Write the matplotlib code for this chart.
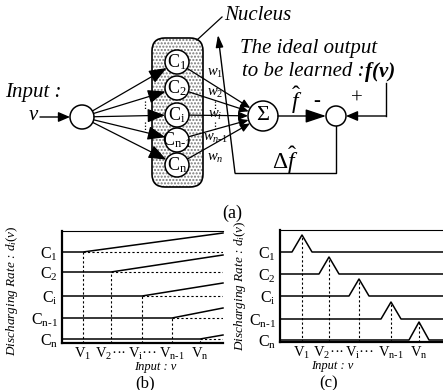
import numpy as np
import matplotlib.pyplot as plt
from matplotlib.patches import Circle, FancyBboxPatch

plt.rcParams['font.family'] = ['Liberation Serif', 'DejaVu Serif']
plt.rcParams['mathtext.fontset'] = 'custom'
plt.rcParams['mathtext.rm'] = 'Liberation Serif'
plt.rcParams['mathtext.it'] = 'Liberation Serif:italic'
plt.rcParams['mathtext.bf'] = 'Liberation Serif:bold'

# labels of the diagram
cell_labels = [r'C$_\mathrm{1}$', r'C$_\mathrm{2}$', r'C$_\mathrm{i}$',
               r'C$_\mathrm{n\text{-}1}$', r'C$_\mathrm{n}$']
weight_labels = [r'$w_1$', r'$w_2$', r'$w_i$', r'$w_{n\text{-}1}$', r'$w_n$']
v_labels = [r'V$_\mathrm{1}$', r'V$_\mathrm{2}$···', r'V$_\mathrm{i}$···',
            r'V$_\mathrm{n\text{-}1}$', r'V$_\mathrm{n}$']

# panel (b): rate stays flat, then grows after the threshold input
b_levels = [91, 71, 47, 25, 4]
b_thresholds = [21, 49, 80, 110, 138]
b_end_values = [110, 88, 60, 35, 8]

# panel (c): rate peaks around each preferred input
c_levels = [90, 68, 46, 23, 2]
c_peaks = [22, 49, 79, 111, 139]
c_heights = [17, 17, 17, 17, 18]
c_halfwidth = 10

W, H = 443, 390
fig = plt.figure(figsize=(W / 100, H / 100), dpi=100)
ax = fig.add_axes([0, 0, 1, 1])
ax.set_xlim(0, W)
ax.set_ylim(H, 0)
ax.axis('off')

# layout of the top diagram (pixels)
cell_x, cell_ys, cell_r = 177, [62, 88, 115, 140, 165], 12
in_x, in_y, in_r = 82, 117, 12
sum_x, sum_y, sum_r = 263, 116, 15
err_x, err_y, err_r = 336, 116, 10


def arrow(p0, p1, ms=10, hl=0.6, hw=0.3, lw=1.0, z=4):
    ax.annotate('', xy=p1, xytext=p0,
                arrowprops=dict(arrowstyle=f'-|>,head_length={hl},head_width={hw}',
                                color='k', lw=lw, mutation_scale=ms,
                                shrinkA=0, shrinkB=0), zorder=z)


# nucleus box with stipple
ax.add_patch(FancyBboxPatch((152, 38), 51, 149, boxstyle='round,pad=0,rounding_size=13',
                            fc='white', ec='#777777', lw=0, hatch='.....', zorder=1))
ax.add_patch(FancyBboxPatch((152, 38), 51, 149, boxstyle='round,pad=0,rounding_size=13',
                            fc='none', ec='k', lw=1.2, zorder=2))
ax.plot([197, 222], [40, 17], color='k', lw=0.9)
ax.text(224, 15, 'Nucleus', fontsize=15, style='italic', va='center', ha='left')

# input node
ax.text(5, 93, 'Input :', fontsize=15, style='italic', va='center', ha='left')
ax.text(33, 116, 'v', fontsize=15, style='italic', va='center', ha='center')
arrow((40, in_y), (in_x - in_r, in_y), ms=10, hl=0.7, hw=0.3)
ax.add_patch(Circle((in_x, in_y), in_r, fc='white', ec='k', lw=1.1, zorder=3))

for cy, lab in zip(cell_ys, cell_labels):
    d = np.array([cell_x - in_x, cy - in_y], float)
    u = d / np.hypot(*d)
    arrow((in_x + u[0] * in_r, in_y + u[1] * in_r),
          (cell_x - u[0] * cell_r, cy - u[1] * cell_r), ms=12, hl=0.9, hw=0.35, lw=0.9)
    ax.add_patch(Circle((cell_x, cy), cell_r, fc='white', ec='k', lw=1.1, zorder=3))
    ax.text(cell_x, cy, lab, fontsize=13, ha='center', va='center', zorder=5)
    d = np.array([sum_x - cell_x, sum_y - cy], float)
    u = d / np.hypot(*d)
    arrow((cell_x + u[0] * cell_r, cy + u[1] * cell_r),
          (sum_x - u[0] * sum_r, sum_y - u[1] * sum_r), ms=8, hl=0.7, hw=0.3, lw=0.9)

for wy, wlab in zip([73, 93, 115, 138, 158], weight_labels):
    ax.text(215, wy, wlab, fontsize=10.5, ha='center', va='center', zorder=5)

# dotted "..." markers
for x in (145, 215):
    ax.plot([x, x], [101, 110], ls=(0, (1, 1.5)), color='k', lw=0.9)
    ax.plot([x, x], [122, 131], ls=(0, (1, 1.5)), color='k', lw=0.9)

# summation and error nodes
ax.add_patch(Circle((sum_x, sum_y), sum_r, fc='white', ec='k', lw=1.1, zorder=3))
ax.text(sum_x, sum_y, 'Σ', fontsize=16, ha='center', va='center', zorder=5)
arrow((sum_x + sum_r, sum_y), (err_x - err_r, err_y), ms=14, hl=0.9, hw=0.3)
ax.add_patch(Circle((err_x, err_y), err_r, fc='white', ec='k', lw=1.1, zorder=3))
ax.text(297, 100, r'$\hat{f}$', fontsize=17, ha='center', va='center')
ax.text(317, 101, '-', fontsize=15, weight='bold', ha='center', va='center')
ax.text(357, 99, '+', fontsize=15, ha='center', va='center')

ax.text(309, 48, 'The ideal output', fontsize=15, style='italic', ha='center', va='center')
t1 = ax.text(242, 72, 'to be learned :', fontsize=15, style='italic', ha='left', va='center')
ax.annotate('f(v)', xy=(1, 0), xycoords=t1, fontsize=15, style='italic', weight='bold',
            ha='left', va='bottom')
ax.plot([386, 386], [83, err_y], color='k', lw=1.0)
arrow((386, err_y), (err_x + err_r, err_y), ms=10, hl=0.7, hw=0.3)

# feedback path
ax.plot([err_x, err_x, 235], [err_y + err_r, 173, 173], color='k', lw=1.0)
arrow((235, 173), (218, 35), ms=9, hl=0.8, hw=0.25, lw=1.0, z=2)
ax.text(285, 160, r'$\Delta\hat{f}$', fontsize=17, ha='center', va='center')
ax.text(232, 213, '(a)', fontsize=13, ha='center', va='center')


def panel(left, width, top, bottom):
    p = fig.add_axes([left / W, (H - bottom) / H, width / W, (bottom - top) / H])
    p.set_xlim(0, width)
    p.set_ylim(0, bottom - top)
    p.spines['right'].set_visible(False)
    p.spines['left'].set_linewidth(1.6)
    p.spines['bottom'].set_linewidth(1.6)
    p.spines['top'].set_linewidth(0.8)
    p.tick_params(axis='y', length=0, labelsize=11.5, pad=3)
    p.tick_params(axis='x', length=0, labelsize=10.5, pad=2)
    p.set_ylabel(r'Discharging Rate : $d_i(v)$', fontsize=9.5, style='italic')
    p.set_xlabel('Input : v', fontsize=9, style='italic')
    return p


# panel (b)
pb = panel(62, 161, 231, 343)
xb = pb.get_xlim()[1]
for lev, th, end in zip(b_levels, b_thresholds, b_end_values):
    pb.plot([0, th, xb], [lev, lev, end], color='k', lw=1.1, clip_on=False)
    pb.plot([th, xb], [lev, lev], color='k', lw=0.8, ls=(0, (2, 2)))
    pb.plot([th, th], [0, lev], color='k', lw=0.8, ls=(0, (2, 2)))
pb.set_yticks(b_levels, cell_labels)
pb.set_xticks(b_thresholds, v_labels)
pb.yaxis.set_label_coords(-0.26, 0.47)
pb.xaxis.set_label_coords(0.58, -0.165)
ax.text(145, 383.5, '(b)', fontsize=12, ha='center', va='center')

# panel (c)
pc = panel(280, 163, 230, 342)
xc = pc.get_xlim()[1]
for lev, pk, h in zip(c_levels, c_peaks, c_heights):
    pc.plot([0, pk - c_halfwidth, pk, pk + c_halfwidth, xc],
            [lev, lev, lev + h, lev, lev], color='k', lw=1.1, clip_on=False)
    pc.plot([pk, pk], [0, lev + h], color='k', lw=0.8, ls=(0, (2, 2)))
pc.set_yticks(c_levels, cell_labels)
pc.set_xticks(c_peaks, v_labels)
pc.yaxis.set_label_coords(-0.195, 0.5)
pc.xaxis.set_label_coords(0.32, -0.165)
ax.text(329, 383, '(c)', fontsize=12, ha='center', va='center')

fig.savefig('out.png', dpi=100)
